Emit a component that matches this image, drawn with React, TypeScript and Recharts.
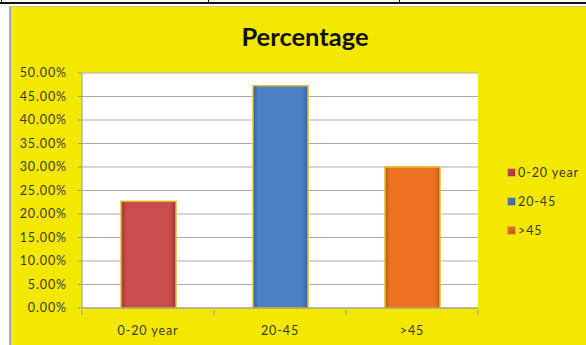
import React from "react";
import { BarChart, Bar, XAxis, YAxis, CartesianGrid, Cell } from "recharts";

// Share of respondents by age group (percent)
const categories = ["0-20 year", "20-45", ">45"];
const percentages = [22.73, 47.27, 30.0];
const yTicks = [0, 5, 10, 15, 20, 25, 30, 35, 40, 45, 50];

const barColors = ["#C94D4D", "#4A80C4", "#EE7222"];
const barEdges = ["#9C3434", "#33609C", "#C2561A"];
const gradientIds = ["gRed", "gBlue", "gOrange"];

const data = categories.map((name, i) => ({ name, value: percentages[i] }));

const W = 586;
const H = 345;
const FONT = "Lato, 'Open Sans', sans-serif";
const TEXT = "#3a3a2a";

const fmtPct = (v: number) => `${v.toFixed(2)}%`;

// Category label with tick marks at the band boundaries
const XTick = (props: any) => {
  const { x, y, payload, index } = props;
  const half = payload.offset || 0;
  const last = index === categories.length - 1;
  return (
    <g>
      <line x1={x - half} y1={y - 6} x2={x - half} y2={y - 1} stroke="#9a9a9a" />
      {last && <line x1={x + half} y1={y - 6} x2={x + half} y2={y - 1} stroke="#9a9a9a" />}
      <text
        x={x}
        y={y + 19}
        textAnchor="middle"
        fontFamily={FONT}
        fontSize={12.5}
        letterSpacing={0.9}
        fill={TEXT}
      >
        {payload.value}
      </text>
    </g>
  );
};

const LegendBlock = () => (
  <div style={{ position: "absolute", left: 507, top: 158, fontFamily: FONT, fontSize: 12.5, letterSpacing: 0.9, color: TEXT }}>
    {categories.map((c, i) => (
      <div key={c} style={{ display: "flex", alignItems: "center", height: 29 }}>
        <span
          style={{
            display: "inline-block",
            width: 7,
            height: 7,
            marginRight: 2,
            background: `linear-gradient(135deg, ${barColors[i]}, ${barEdges[i]})`,
            border: "1px solid #E2B93A",
          }}
        />
        <span>{c}</span>
      </div>
    ))}
  </div>
);

export default function App() {
  return (
    <div style={{ position: "fixed", left: 0, top: 0, width: W, height: H, background: "#fff", overflow: "hidden" }}>
      {/* surrounding table rules */}
      <div style={{ position: "absolute", left: 0, top: 2, width: W, height: 2, background: "#111" }} />
      <div style={{ position: "absolute", left: 1, top: 0, width: 1, height: 4, background: "#111" }} />
      <div style={{ position: "absolute", left: 208, top: 0, width: 1, height: 4, background: "#111" }} />
      <div style={{ position: "absolute", left: 399, top: 0, width: 1, height: 4, background: "#111" }} />
      {/* chart frame */}
      <div
        style={{
          position: "absolute",
          left: 9,
          top: 6,
          width: W - 9,
          height: H - 6,
          background: "#F4E800",
          borderLeft: "2px solid #A9A6C4",
          borderTop: "1px solid #C9C59A",
          boxSizing: "border-box",
        }}
      />
      <div
        style={{
          position: "absolute",
          left: 205,
          width: 200,
          top: 20,
          textAlign: "center",
          fontFamily: FONT,
          fontWeight: 700,
          fontSize: 25.5,
          color: "#111",
          lineHeight: "32px",
        }}
      >
        Percentage
      </div>
      <div style={{ position: "absolute", left: 0, top: 0 }}>
        <BarChart width={W} height={H} data={data} margin={{ top: 73, right: 108, bottom: 7, left: 0 }}>
          <defs>
            {gradientIds.map((id, i) => (
              <linearGradient key={id} id={id} x1="0" y1="0" x2="1" y2="0">
                <stop offset="0%" stopColor={barEdges[i]} />
                <stop offset="10%" stopColor={barColors[i]} />
                <stop offset="90%" stopColor={barColors[i]} />
                <stop offset="100%" stopColor={barEdges[i]} />
              </linearGradient>
            ))}
          </defs>
          <CartesianGrid vertical={false} stroke="#ababab" strokeWidth={1.2} fill="#ffffff" />
          <XAxis
            dataKey="name"
            height={30}
            axisLine={{ stroke: "#9a9a9a" }}
            tickLine={false}
            tick={<XTick />}
            interval={0}
          />
          <YAxis
            width={82}
            domain={[0, 50]}
            ticks={yTicks}
            interval={0}
            tickFormatter={fmtPct}
            axisLine={{ stroke: "#9a9a9a" }}
            tickLine={{ stroke: "#9a9a9a" }}
            tickSize={4}
            tickMargin={11}
            tick={{ fontFamily: FONT, fontSize: 12.5, fill: TEXT, letterSpacing: 0.9 }}
          />
          <YAxis
            yAxisId="frame"
            orientation="right"
            width={0}
            domain={[0, 50]}
            tick={false}
            tickLine={false}
            axisLine={{ stroke: "#c4c4c4", strokeWidth: 2 }}
          />
          <Bar dataKey="value" barSize={55} stroke="#E6BC2E" strokeWidth={1.5} isAnimationActive={false}>
            {data.map((d, i) => (
              <Cell key={d.name} fill={`url(#${gradientIds[i]})`} />
            ))}
          </Bar>
        </BarChart>
      </div>
      <LegendBlock />
    </div>
  );
}
